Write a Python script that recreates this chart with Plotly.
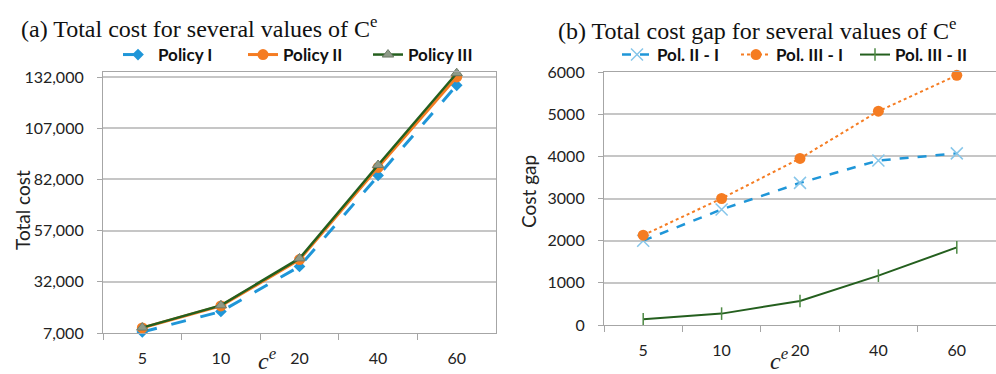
import plotly.graph_objects as go

# Carbon price levels (category axis)
ce_levels = ["5", "10", "20", "40", "60"]

# Total cost per policy
policy_1 = [7500, 17500, 39500, 84000, 128000]
policy_2 = [9500, 20240, 42870, 87900, 132070]
policy_3 = [9635, 20510, 43440, 89070, 133920]

# Total cost gaps between policies
gap_2_1 = [2000, 2740, 3370, 3900, 4070]
gap_3_1 = [2130, 3000, 3950, 5070, 5920]
gap_3_2 = [135, 270, 570, 1170, 1840]

cost_ticks = [7000, 32000, 57000, 82000, 107000, 132000]
gap_ticks = [0, 1000, 2000, 3000, 4000, 5000, 6000]

BLUE = "#1F96D8"
LIGHT_BLUE = "#86C6EA"
ORANGE = "#F57C22"
GREEN = "#245F1E"
TRI_FILL = "#8E9A88"
GRID = "#C6C6C6"
AXIS = "#A6A6A6"
TICK_FONT = dict(family="Lato", size=16, color="#222222")
LEG_FONT = dict(family="Lato", size=17, color="#111111", weight="bold")

fig = go.Figure()

# (a) total cost
fig.add_trace(go.Scatter(
    x=ce_levels, y=policy_1, name="Policy I", mode="lines+markers",
    line=dict(color=BLUE, width=3, dash="longdash"),
    marker=dict(symbol="diamond", size=9, color=BLUE),
    xaxis="x", yaxis="y", legend="legend", cliponaxis=False))
fig.add_trace(go.Scatter(
    x=ce_levels, y=policy_2, name="Policy II", mode="lines+markers",
    line=dict(color=ORANGE, width=3),
    marker=dict(symbol="circle", size=11, color=ORANGE),
    xaxis="x", yaxis="y", legend="legend", cliponaxis=False))
fig.add_trace(go.Scatter(
    x=ce_levels, y=policy_3, name="Policy III", mode="lines+markers",
    line=dict(color=GREEN, width=2.5),
    marker=dict(symbol="triangle-up", size=10, color=TRI_FILL,
                line=dict(color="#6E7C69", width=1)),
    xaxis="x", yaxis="y", legend="legend", cliponaxis=False))

# (b) cost gaps
fig.add_trace(go.Scatter(
    x=ce_levels, y=gap_2_1, name="Pol. II - I", mode="lines+markers",
    line=dict(color=BLUE, width=2.5, dash="dash"),
    marker=dict(symbol="x-thin", size=12, color=LIGHT_BLUE,
                line=dict(color=LIGHT_BLUE, width=1.5)),
    xaxis="x2", yaxis="y2", legend="legend2", cliponaxis=False))
fig.add_trace(go.Scatter(
    x=ce_levels, y=gap_3_1, name="Pol. III - I", mode="lines+markers",
    line=dict(color=ORANGE, width=2, dash="dot"),
    marker=dict(symbol="circle", size=11, color=ORANGE),
    xaxis="x2", yaxis="y2", legend="legend2", cliponaxis=False))
fig.add_trace(go.Scatter(
    x=ce_levels, y=gap_3_2, name="Pol. III - II", mode="lines+markers",
    line=dict(color=GREEN, width=2),
    marker=dict(symbol="line-ns", size=9, color=GREEN,
                line=dict(color="#4E8A45", width=1.5)),
    xaxis="x2", yaxis="y2", legend="legend2", cliponaxis=False))

xcommon = dict(type="category", categoryorder="array", categoryarray=ce_levels,
               range=[-0.5, 4.5], showgrid=False, showline=True, linecolor=AXIS,
               linewidth=1.2, mirror=True, ticks="outside", tickson="boundaries",
               ticklen=6, tickcolor=AXIS, tickwidth=1.2, tickfont=TICK_FONT,
               ticklabelstandoff=11, zeroline=False)
ycommon = dict(showgrid=True, gridcolor=GRID, gridwidth=1.6, showline=True,
               linecolor=AXIS, linewidth=1.2, mirror=True, ticks="outside",
               ticklen=5, tickcolor=AXIS, tickfont=TICK_FONT, zeroline=False,
               ticklabelstandoff=10)

fig.update_layout(
    width=996, height=374,
    margin=dict(l=0, r=0, t=0, b=0, autoexpand=False),
    paper_bgcolor="white", plot_bgcolor="white",
    xaxis=dict(domain=[103/996, 496/996], anchor="y", **xcommon),
    yaxis=dict(domain=[1-333/374, 1-72/374], anchor="x", range=[7000, 134500],
               tickvals=cost_ticks, tickformat=",d", **ycommon),
    xaxis2=dict(domain=[604/996, 1.0], anchor="y2", **xcommon),
    yaxis2=dict(domain=[1-325/374, 1-72/374], anchor="x2", range=[0, 6000],
                tickvals=gap_ticks, tickformat="d", **ycommon),
    legend=dict(orientation="h", x=118/996, y=1-55/374, xanchor="left",
                yanchor="middle", font=LEG_FONT, bgcolor="rgba(0,0,0,0)",
                entrywidth=80, itemclick=False),
    legend2=dict(orientation="h", x=617/996, y=1-55/374, xanchor="left",
                 yanchor="middle", font=LEG_FONT, bgcolor="rgba(0,0,0,0)",
                 entrywidth=74, itemclick=False),
    showlegend=True,
)

title_font = dict(family="Liberation Serif", size=24, color="#111111")
axis_title_font = dict(family="Lato", size=19, color="#222222")
ce_font = dict(family="Liberation Serif", size=24, color="#222222")

annotations = [
    dict(text="(a) Total cost for several values of C<sup>e</sup>", x=199/996, y=1-27/374,
         font=title_font),
    dict(text="(b) Total cost gap for several values of C<sup>e</sup>", x=757/996, y=1-29/374,
         font=title_font),
    dict(text="Total cost", x=22/996, y=1-210/374, textangle=-90, font=axis_title_font),
    dict(text="Cost gap", x=528/996, y=1-192/374, textangle=-90, font=axis_title_font),
    dict(text="<i>c</i><sup><i>e</i></sup>", x=267/996, y=1-359/374, font=ce_font),
    dict(text="<i>c</i><sup><i>e</i></sup>", x=779/996, y=1-359/374, font=ce_font),
]
for a in annotations:
    fig.add_annotation(xref="paper", yref="paper", showarrow=False,
                       xanchor="center", yanchor="middle", **a)

fig.write_html("out.html")
